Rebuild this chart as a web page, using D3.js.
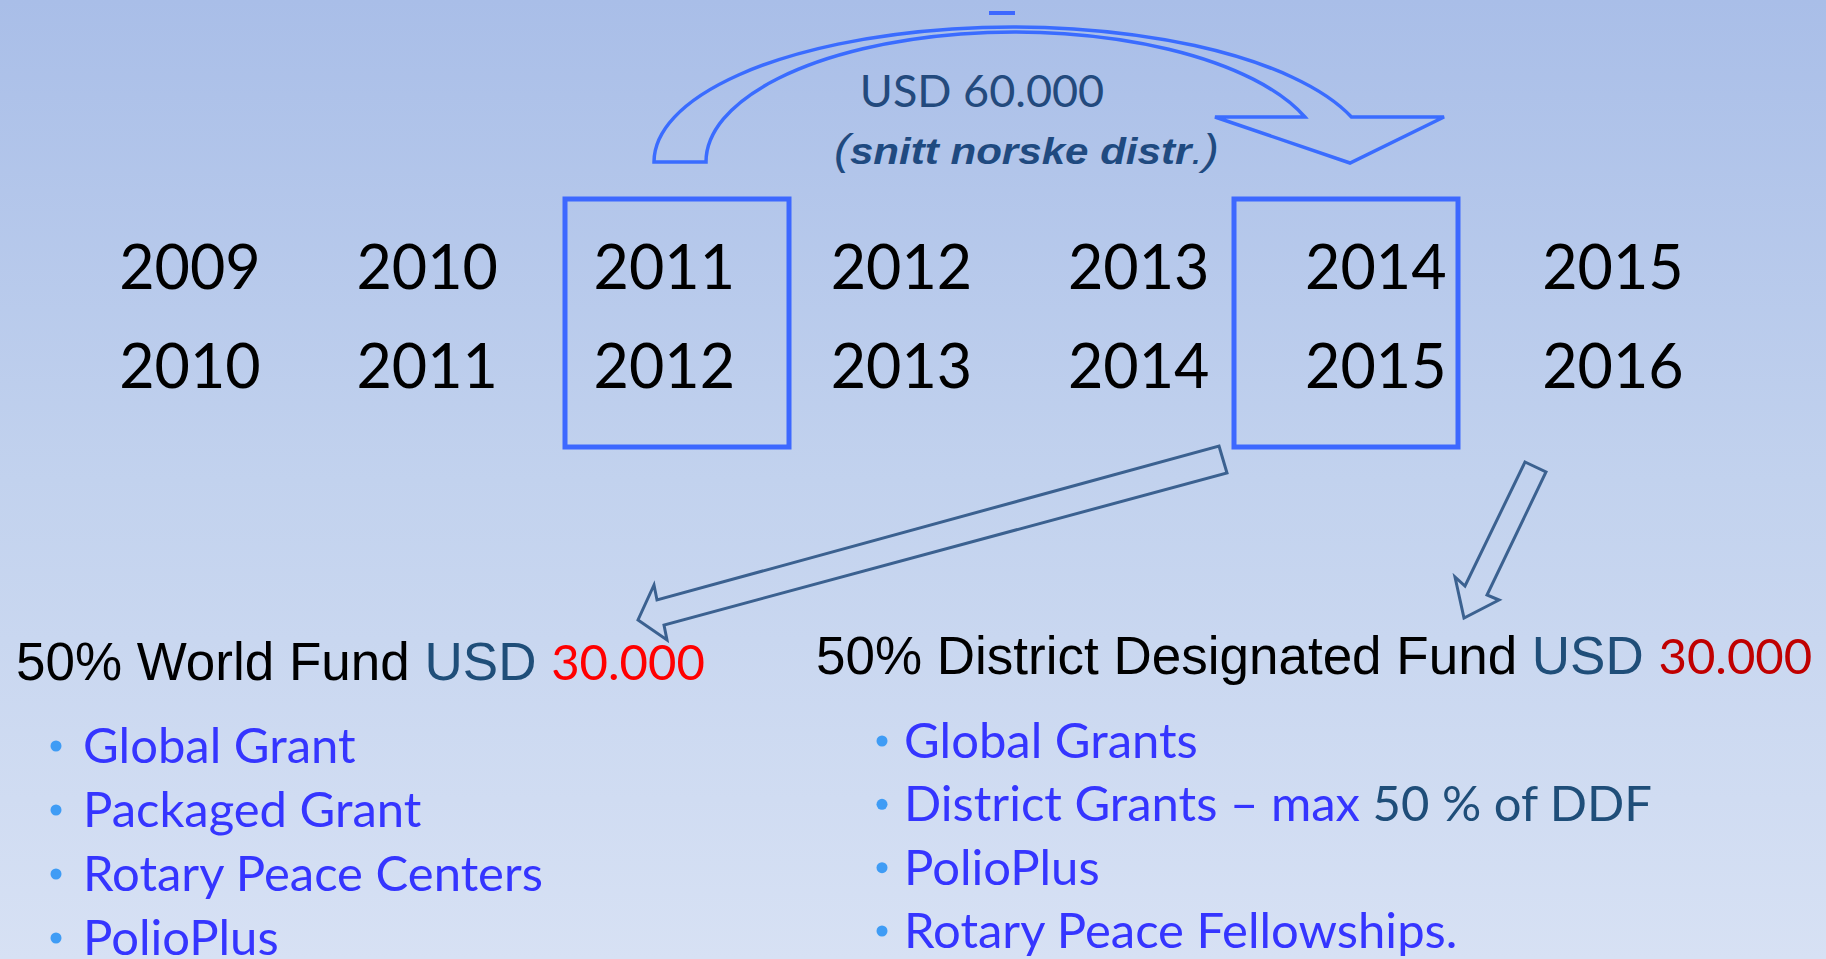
<!DOCTYPE html>
<html>
<head>
<meta charset="utf-8">
<script src="https://cdnjs.cloudflare.com/ajax/libs/d3/7.8.5/d3.min.js"></script>
<style>
  body { margin: 0; overflow: hidden; }
</style>
</head>
<body>
<svg></svg>
<script>
// Rotary year cycle: contribution year -> spending year
var startYears = ["2009", "2010", "2011", "2012", "2013", "2014", "2015"];
var endYears   = ["2010", "2011", "2012", "2013", "2014", "2015", "2016"];
var boxedYears = ["2011", "2014"];

var totalLabel = "USD 60.000";
var totalNote  = "snitt norske distr";

var worldFundHead = ["50% World Fund ", "USD ", "30.000"];
var ddfHead       = ["50% District Designated Fund ", "USD ", "30.000"];

var worldFundItems = ["Global Grant", "Packaged Grant", "Rotary Peace Centers", "PolioPlus"];
var ddfItems = ["Global Grants", "District Grants \u2013 max 50 % of DDF", "PolioPlus", "Rotary Peace Fellowships."];
var ddfAccent = "50 % of DDF";

var screen = { width: 1826, height: 959 };
var calibri = "Lato, 'Open Sans', sans-serif";
var arial = "'Liberation Sans', Arial, sans-serif";

var svg = d3.select("svg")
            .attr("width", screen.width)
            .attr("height", screen.height);

// background gradient
var grad = svg.append("defs")
              .append("linearGradient")
              .attr("id", "bg")
              .attr("x1", 0).attr("y1", 0)
              .attr("x2", 0).attr("y2", 1);
grad.append("stop").attr("offset", "0%").attr("stop-color", "#a9bee8");
grad.append("stop").attr("offset", "50%").attr("stop-color", "#c2d2ee");
grad.append("stop").attr("offset", "100%").attr("stop-color", "#d7e1f4");

svg.append("rect")
   .attr("width", screen.width)
   .attr("height", screen.height)
   .attr("fill", "url(#bg)");

// year columns
var xScale = d3.scalePoint()
               .domain(startYears)
               .range([190, 1613]);
var rowScale = d3.scalePoint()
                 .domain(["start", "end"])
                 .range([289, 388]);

var rows = [
  { key: "start", years: startYears },
  { key: "end", years: endYears }
];

rows.forEach(function(row){
  svg.append("g")
     .selectAll("text")
     .data(row.years)
     .enter()
     .append("text")
     .attr("x", function(d, i){ return xScale(startYears[i]); })
     .attr("y", rowScale(row.key))
     .attr("text-anchor", "middle")
     .attr("font-family", calibri)
     .attr("font-size", 61)
     .attr("fill", "#000")
     .text(function(d){ return d; });
});

// the two highlighted years sit in their own frames
var boxScale = d3.scalePoint()
                 .domain(boxedYears)
                 .range([677, 1346]);
var boxWidth = 224;
svg.append("g")
   .selectAll("rect")
   .data(boxedYears)
   .enter()
   .append("rect")
   .attr("x", function(d){ return boxScale(d) - boxWidth / 2; })
   .attr("y", 199)
   .attr("width", boxWidth)
   .attr("height", 248)
   .attr("fill", "none")
   .attr("stroke", "#3d68ff")
   .attr("stroke-width", 5);

// curved arrow from first box to second box
var outer = { cx: 1013, cy: 162, rx: 359, ry: 135 };
var inner = { cx: 1015, cy: 162, rx: 309, ry: 130 };
var baseY = 117;
var outerEnd = outer.cx + outer.rx * Math.sqrt(1 - Math.pow((baseY - outer.cy) / outer.ry, 2));
var innerEnd = inner.cx + inner.rx * Math.sqrt(1 - Math.pow((baseY - inner.cy) / inner.ry, 2));

var curved = "M" + (outer.cx - outer.rx) + "," + outer.cy +
  " A" + outer.rx + "," + outer.ry + " 0 0 1 " + outerEnd + "," + baseY +
  " L1444," + baseY + " L1350,163 L1215," + baseY +
  " L" + innerEnd + "," + baseY +
  " A" + inner.rx + "," + inner.ry + " 0 0 0 " + (inner.cx - inner.rx) + "," + inner.cy + " Z";

svg.append("path")
   .attr("d", curved)
   .attr("fill", "none")
   .attr("stroke", "#3a6cff")
   .attr("stroke-width", 3.5)
   .attr("stroke-linejoin", "miter");

svg.append("rect")
   .attr("x", 989).attr("y", 11)
   .attr("width", 26).attr("height", 4)
   .attr("fill", "#3d68ff");

svg.append("text")
   .attr("x", 982)
   .attr("y", 107)
   .attr("text-anchor", "middle")
   .attr("font-family", calibri)
   .attr("font-size", 45)
   .attr("fill", "#234a7d")
   .text(totalLabel);

var note = svg.append("text")
   .attr("x", 834)
   .attr("y", 164)
   .attr("font-family", arial)
   .attr("font-size", 37)
   .attr("font-style", "italic")
   .attr("fill", "#1f4a80")
   .attr("textLength", 385)
   .attr("lengthAdjust", "spacingAndGlyphs");
note.append("tspan").attr("font-size", 42).text("(");
note.append("tspan").attr("font-weight", "bold").text(totalNote);
note.append("tspan").text(".");
note.append("tspan").attr("font-size", 42).text(")");

// straight arrows down to the two funds
var arrowLine = d3.line();
var leftArrow = [[1219, 446], [1227, 473], [664, 625], [667, 640], [638, 620], [654, 585], [657, 600]];
var rightArrow = [[1525, 462], [1546, 472], [1487, 595], [1499, 600], [1464, 618], [1455, 577], [1465, 586]];

svg.selectAll(".down")
   .data([leftArrow, rightArrow])
   .enter()
   .append("path")
   .attr("class", "down")
   .attr("d", function(d){ return arrowLine(d) + "Z"; })
   .attr("fill", "none")
   .attr("stroke", "#3b6190")
   .attr("stroke-width", 3)
   .attr("stroke-linejoin", "miter");

// headings
var headColors = ["#000000", "#1f4e79"];
var drawHead = function(parts, x, y, red){
  var t = svg.append("text")
             .attr("x", x)
             .attr("y", y)
             .attr("font-family", arial)
             .attr("font-size", 53);
  t.append("tspan").attr("fill", headColors[0]).text(parts[0]);
  t.append("tspan").attr("fill", headColors[1]).text(parts[1]);
  t.append("tspan")
   .attr("fill", red)
   .attr("font-family", calibri)
   .attr("font-size", 49)
   .text(parts[2]);
};
drawHead(worldFundHead, 16, 680, "#ff0000");
drawHead(ddfHead, 816, 674, "#c00000");

// bullet lists
var drawList = function(items, dotX, textX, yRange){
  var yScale = d3.scaleLinear()
                 .domain([0, items.length - 1])
                 .range(yRange);
  var g = svg.append("g");
  g.selectAll("circle")
   .data(items)
   .enter()
   .append("circle")
   .attr("cx", dotX)
   .attr("cy", function(d, i){ return yScale(i) - 17; })
   .attr("r", 5.5)
   .attr("fill", "#3f9cf5");
  var texts = g.selectAll("text")
   .data(items)
   .enter()
   .append("text")
   .attr("x", textX)
   .attr("y", function(d, i){ return yScale(i); })
   .attr("font-family", calibri)
   .attr("font-size", 49)
   .attr("fill", "#3535ff");
  texts.each(function(d){
    var el = d3.select(this);
    var k = d.indexOf(ddfAccent);
    if (k < 0) { el.text(d); return; }
    el.append("tspan").text(d.slice(0, k));
    el.append("tspan").attr("fill", "#1f4e79").text(ddfAccent);
  });
};
drawList(worldFundItems, 56, 83, [763, 955]);
drawList(ddfItems, 882, 904, [758, 948]);
</script>
</body>
</html>
